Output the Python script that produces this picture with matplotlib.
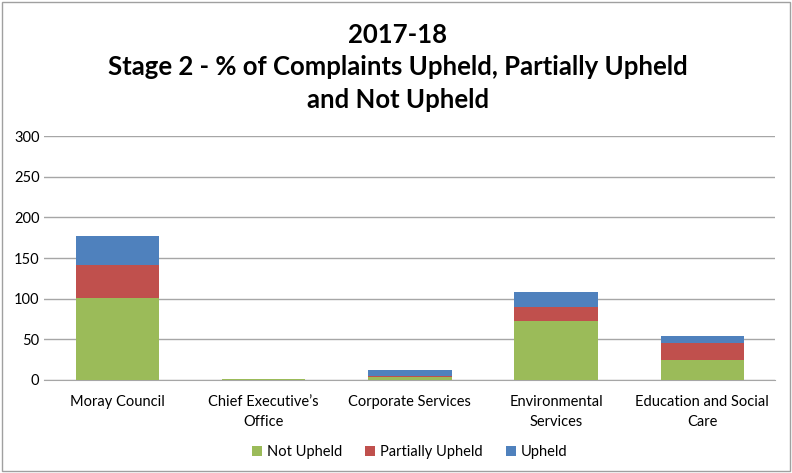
import matplotlib
matplotlib.use("Agg")
import matplotlib.pyplot as plt
import numpy as np

# values
categories = ["Moray Council", "Chief Executive\u2019s\nOffice", "Corporate Services",
              "Environmental\nServices", "Education and Social\nCare"]
not_upheld = [101, 1, 3, 72, 25]
partially_upheld = [41, 0, 2, 18, 20]
upheld = [35, 0, 7, 18, 9]
y_ticks = [0, 50, 100, 150, 200, 250, 300]

plt.rcParams['font.family'] = ['Lato', 'DejaVu Sans']

fig = plt.figure(figsize=(7.92, 4.73), dpi=100)
ax = fig.add_axes([0.056, 0.197, 0.923, 0.515])

x = np.arange(len(categories))
w = 0.57
ax.bar(x, not_upheld, w, color="#9BBB59", label="Not Upheld", zorder=3)
ax.bar(x, partially_upheld, w, bottom=not_upheld, color="#C0504D",
       label="Partially Upheld", zorder=3)
bottom2 = [a + b for a, b in zip(not_upheld, partially_upheld)]
ax.bar(x, upheld, w, bottom=bottom2, color="#4F81BD", label="Upheld", zorder=3)

ax.set_xlim(-0.5, len(categories) - 0.5)
ax.set_ylim(0, 300)
ax.set_yticks(y_ticks)
ax.yaxis.grid(True, color="#A6A6A6", linewidth=1, zorder=0)
for s in ["top", "right", "left"]:
    ax.spines[s].set_visible(False)
ax.spines["bottom"].set_color("#A6A6A6")
ax.tick_params(axis="both", length=0, labelsize=10.5, colors="#000000")
ax.tick_params(axis="x", pad=11)
ax.set_xticks(x)
ax.set_xticklabels(categories, linespacing=1.5)

fig.text(0.502, 0.858, "2017-18\nStage 2 - % of Complaints Upheld, Partially Upheld\nand Not Upheld",
         ha="center", va="center", fontsize=18.5, fontweight="bold", linespacing=1.42)

fig.legend(loc="center", bbox_to_anchor=(0.517, 0.044), ncol=3, frameon=False,
           fontsize=10.5, handlelength=0.7, handleheight=0.7, handletextpad=0.3,
           columnspacing=1.6)

border = plt.Rectangle((0.002, 0.004), 0.995, 0.992, transform=fig.transFigure,
                       fill=False, edgecolor="#A0A0A0", linewidth=1)
fig.patches.append(border)

fig.savefig("out.png", dpi=100)
